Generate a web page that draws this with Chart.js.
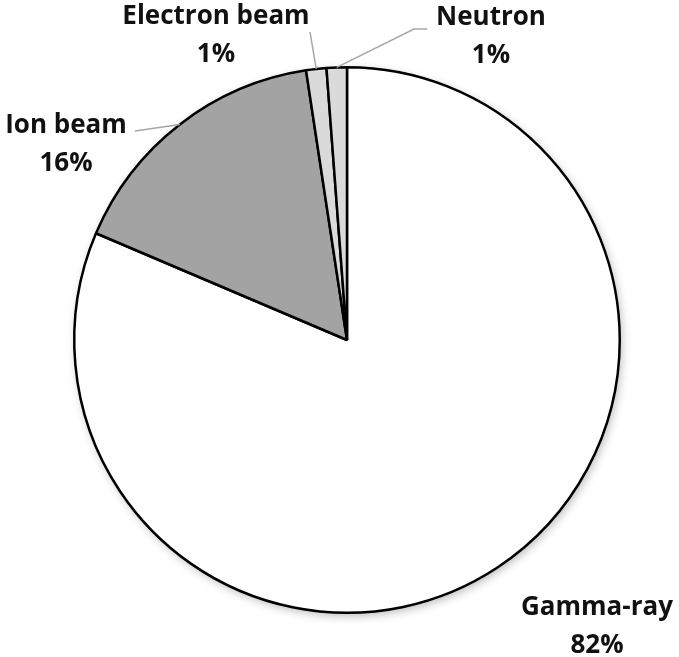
<!DOCTYPE html>
<html>
<head>
<meta charset="utf-8">
<script src="https://cdn.jsdelivr.net/npm/chart.js@4.4.1/dist/chart.umd.min.js"></script>
<style>
  html, body { margin: 0; padding: 0; background: #fff; }
  #wrap { width: 679px; height: 657px; position: relative; }
</style>
</head>
<body>
<div id="wrap"><canvas id="pieChart"></canvas></div>
<script>
// data
var categories = ["Gamma-ray", "Ion beam", "Electron beam", "Neutron"];
var shares = [81.4, 16.2, 1.2, 1.2];
var pctLabels = ["82%", "16%", "1%", "1%"];
var sliceColors = ["#ffffff", "#a3a3a3", "#dadada", "#dadada"];

// where each label sits (center x, first baseline) and where its leader starts
var labelPos = [
    { x: 597, y: 615, lead: null },
    { x: 66, y: 133, lead: [[135, 131]] },
    { x: 216, y: 24, lead: [[310, 32]] },
    { x: 491, y: 25, lead: [[427, 29], [414, 29]] }
];

// soft shadow behind the pie
var pieShadow = {
    id: 'pieShadow',
    beforeDatasetsDraw: function(chart) {
        var arc = chart.getDatasetMeta(0).data[0];
        if (!arc) return;
        var ctx = chart.ctx;
        ctx.save();
        ctx.beginPath();
        ctx.arc(arc.x, arc.y, arc.outerRadius, 0, Math.PI * 2);
        ctx.fillStyle = '#ffffff';
        ctx.shadowColor = 'rgba(0,0,0,0.28)';
        ctx.shadowBlur = 10;
        ctx.shadowOffsetX = 2;
        ctx.shadowOffsetY = 3;
        ctx.fill();
        ctx.restore();
    }
};

// labels with leader lines
var pieLabels = {
    id: 'pieLabels',
    afterDatasetsDraw: function(chart) {
        var ctx = chart.ctx;
        var arcs = chart.getDatasetMeta(0).data;
        ctx.save();
        arcs.forEach(function(arc, i) {
            var p = labelPos[i];
            if (p.lead) {
                var mid = (arc.startAngle + arc.endAngle) / 2;
                var ex = arc.x + Math.cos(mid) * arc.outerRadius;
                var ey = arc.y + Math.sin(mid) * arc.outerRadius;
                ctx.beginPath();
                ctx.moveTo(p.lead[0][0], p.lead[0][1]);
                for (var k = 1; k < p.lead.length; k++) ctx.lineTo(p.lead[k][0], p.lead[k][1]);
                ctx.lineTo(ex, ey);
                ctx.strokeStyle = '#a6a6a6';
                ctx.lineWidth = 1.5;
                ctx.stroke();
            }
            ctx.fillStyle = '#111111';
            ctx.font = 'bold 26px "Open Sans"';
            ctx.textAlign = 'center';
            ctx.textBaseline = 'alphabetic';
            ctx.fillText(categories[i], p.x, p.y);
            ctx.fillText(pctLabels[i], p.x, p.y + 38);
        });
        ctx.restore();
    }
};

var pieCanvas = document.getElementById("pieChart");

var pieData = {
    labels: categories,
    datasets: [{
        data: shares,
        backgroundColor: sliceColors,
        borderColor: "#000000",
        borderWidth: 2.5
    }]
};

var pieChart = new Chart(pieCanvas, {
    type: 'pie',
    data: pieData,
    options: {
        responsive: true,
        maintainAspectRatio: false,
        animation: false,
        layout: { padding: { left: 73, right: 58, top: 66, bottom: 43 } },
        plugins: {
            legend: { display: false },
            tooltip: { enabled: false }
        }
    },
    plugins: [pieShadow, pieLabels]
});
</script>
</body>
</html>
